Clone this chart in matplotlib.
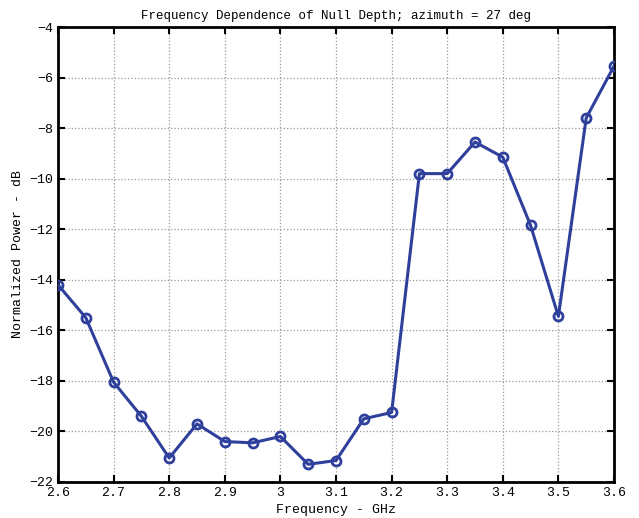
import matplotlib
matplotlib.use("Agg")
import matplotlib.pyplot as plt

freq = [2.6, 2.65, 2.7, 2.75, 2.8, 2.85, 2.9, 2.95, 3.0, 3.05, 3.1,
        3.15, 3.2, 3.25, 3.3, 3.35, 3.4, 3.45, 3.5, 3.55, 3.6]
power = [-14.2, -15.5, -18.05, -19.4, -21.05, -19.7, -20.4, -20.45, -20.2, -21.3, -21.15,
         -19.5, -19.25, -9.8, -9.8, -8.55, -9.15, -11.85, -15.45, -7.6, -5.55]
xticks = [2.6, 2.7, 2.8, 2.9, 3.0, 3.1, 3.2, 3.3, 3.4, 3.5, 3.6]
xticklabels = ["2.6", "2.7", "2.8", "2.9", "3", "3.1", "3.2", "3.3", "3.4", "3.5", "3.6"]
yticks = [-22, -20, -18, -16, -14, -12, -10, -8, -6, -4]

plt.rcParams['font.family'] = ['Liberation Mono', 'DejaVu Sans Mono']

fig = plt.figure(figsize=(6.39, 5.18), dpi=100)
ax = fig.add_axes([58/639, 1-482/518, (614-58)/639, (482-27)/518])

ax.plot(freq, power, color='#2f3f9c', lw=2.2, marker='o', ms=6.5,
        mfc='none', mec='#2f3f9c', mew=2.0, zorder=3)

ax.set_xlim(2.6, 3.6)
ax.set_ylim(-22, -4)
ax.set_xticks(xticks)
ax.set_xticklabels(xticklabels)
ax.set_yticks(yticks)
ax.grid(True, linestyle=':', color='#999999', lw=0.9)
for s in ax.spines.values():
    s.set_linewidth(2)
ax.tick_params(direction='in', length=5, width=1.5, labelsize=9.5, top=True, right=True)
ax.set_title('Frequency Dependence of Null Depth; azimuth = 27 deg', fontsize=9, pad=6)
ax.set_xlabel('Frequency - GHz', fontsize=9.5, labelpad=4)
ax.set_ylabel('Normalized Power - dB', fontsize=9.5, labelpad=4)

fig.savefig('out.png', dpi=100)
